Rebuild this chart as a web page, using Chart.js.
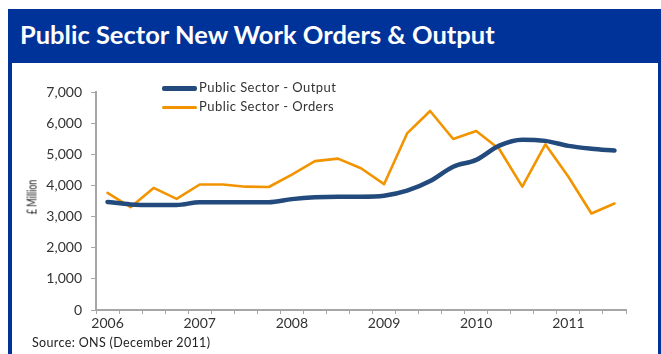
<!DOCTYPE html>
<html>
<head>
<meta charset="utf-8">
<script src="https://cdn.jsdelivr.net/npm/chart.js@4.4.0/dist/chart.umd.min.js"></script>
<style>
  html, body { margin: 0; padding: 0; background: #fff; }
  body { width: 661px; height: 354px; position: relative; overflow: hidden; font-family: Lato, sans-serif; }
  .frame { position: absolute; left: 8px; top: 9px; width: 653px; height: 360px; background: #003399; }
  .panel { position: absolute; left: 12px; top: 63px; width: 646px; height: 300px; background: #fff; }
  .title { position: absolute; left: 20px; top: 19px; color: #fff; font-weight: bold; font-size: 25.5px; line-height: 30px; white-space: nowrap; }
  .wrap { position: absolute; left: 12px; top: 63px; width: 646px; height: 291px; }
  .ytitle { position: absolute; left: 32px; top: 197px; font-size: 12.5px; color: #222; white-space: nowrap;
            transform: translate(-50%, -50%) rotate(-90deg) scaleX(0.72); }
  .legend { position: absolute; left: 162px; top: 78px; font-size: 13px; letter-spacing: 0.45px; color: #333; }
  .legend div { height: 19px; line-height: 19px; white-space: nowrap; }
  .legend span { display: inline-block; width: 35px; vertical-align: middle; margin-right: 2px; border-radius: 2px; }
  .source { position: absolute; left: 32px; top: 335px; font-size: 12.5px; letter-spacing: 0.35px; color: #222; white-space: nowrap; }
</style>
</head>
<body>
<div class="frame"></div>
<div class="panel"></div>
<div class="title">Public Sector New Work Orders &amp; Output</div>
<div class="wrap"><canvas id="chart"></canvas></div>
<div class="ytitle">£ Million</div>
<div class="legend" id="legend"></div>
<div class="source">Source: ONS (December 2011)</div>
<script>
// quarterly series, 2006 Q1 to 2011 Q3, £ million
const QUARTERS = [
  '2006 Q1', '2006 Q2', '2006 Q3', '2006 Q4',
  '2007 Q1', '2007 Q2', '2007 Q3', '2007 Q4',
  '2008 Q1', '2008 Q2', '2008 Q3', '2008 Q4',
  '2009 Q1', '2009 Q2', '2009 Q3', '2009 Q4',
  '2010 Q1', '2010 Q2', '2010 Q3', '2010 Q4',
  '2011 Q1', '2011 Q2', '2011 Q3'
];
const OUTPUT = [3470, 3390, 3370, 3370, 3460, 3460, 3460, 3460, 3560, 3620, 3640, 3640,
                3670, 3830, 4140, 4600, 4820, 5280, 5470, 5430, 5270, 5180, 5120];
const ORDERS = [3760, 3300, 3920, 3570, 4030, 4030, 3960, 3950, 4350, 4780, 4860, 4550,
                4040, 5670, 6390, 5490, 5750, 5170, 3960, 5320, 4280, 3100, 3420];
const Y_TICKS = [0, 1000, 2000, 3000, 4000, 5000, 6000, 7000];

const BLUE = '#234a7d';
const ORANGE = '#f29400';
const AXIS = '#a6a6a6';
const FONT = { family: 'Lato, sans-serif', size: 14 };

const series = [
  { label: 'Public Sector - Output', data: OUTPUT, color: BLUE, width: 4.5, smooth: true },
  { label: 'Public Sector - Orders', data: ORDERS, color: ORANGE, width: 2.6, smooth: false }
];

// legend drawn as html, stacked like the original
document.getElementById('legend').innerHTML = series.map(s =>
  `<div><span style="height:${s.width}px;background:${s.color}"></span>${s.label}</div>`).join('');

chart = new Chart(document.getElementById('chart').getContext('2d'), {
  type: 'line',
  data: {
    labels: QUARTERS,
    datasets: series.map(s => ({
      label: s.label,
      data: s.data,
      borderColor: s.color,
      backgroundColor: s.color,
      borderWidth: s.width,
      borderCapStyle: 'round',
      borderJoinStyle: 'round',
      pointRadius: 0,
      cubicInterpolationMode: s.smooth ? 'monotone' : 'default',
      tension: 0,
      fill: false
    }))
  },
  options: {
    responsive: true,
    maintainAspectRatio: false,
    animation: false,
    layout: { padding: { top: 29, right: 32, left: 0, bottom: 0 } },
    plugins: { legend: { display: false }, tooltip: { enabled: false } },
    scales: {
      x: {
        offset: true,
        afterFit: s => { s.height = 44; },
        grid: { offset: true, drawOnChartArea: false, color: AXIS, tickLength: 4, lineWidth: 1 },
        border: { color: AXIS, width: 2 },
        ticks: {
          autoSkip: false, maxRotation: 0, padding: 1, color: '#333', font: FONT,
          callback: (v, i) => QUARTERS[i].endsWith('Q1') ? QUARTERS[i].slice(0, 4) : ''
        }
      },
      y: {
        min: Y_TICKS[0], max: Y_TICKS[Y_TICKS.length - 1],
        afterFit: s => { s.width = 84; },
        afterBuildTicks: s => { s.ticks = Y_TICKS.map(v => ({ value: v })); },
        grid: { drawOnChartArea: false, color: AXIS, tickLength: 5 },
        border: { color: AXIS, width: 2 },
        ticks: { padding: 9, color: '#333', font: FONT, callback: v => v.toLocaleString('en-US') }
      }
    }
  }
});
</script>
</body>
</html>
